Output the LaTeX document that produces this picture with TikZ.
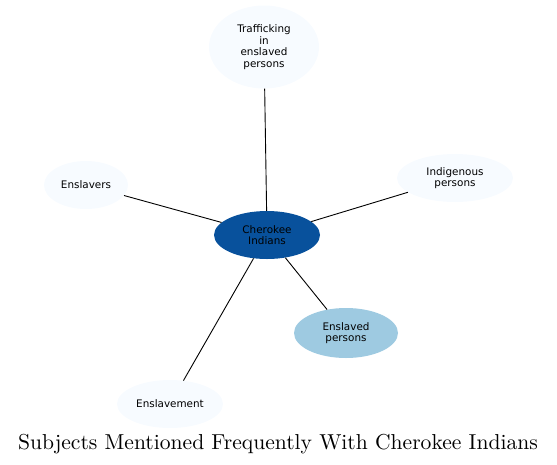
\documentclass[tikz,border=0pt]{standalone}
\usepackage{fontspec}
\newfontfamily\nodefont{DejaVu Sans}
\newfontfamily\titlefont{lmroman10-regular.otf}
\usetikzlibrary{shapes.geometric}
\definecolor{pale}{HTML}{F7FBFF}
\definecolor{midblue}{HTML}{9ECAE1}
\definecolor{darkblue}{HTML}{08519C}
\tikzset{
  topic/.style={ellipse, draw=none, fill=pale, inner sep=0pt, align=center,
    font=\nodefont\fontsize{10.4}{11.7}\selectfont, text=black},
  link/.style={draw=black, line width=0.9pt}
}
\begin{document}
\begin{tikzpicture}[x=1pt,y=-1pt]
\useasboundingbox (0,0) rectangle (557,464);
\node[topic, minimum width=110, minimum height=83] (traf) at (264,47) {Trafficking\\in\\enslaved\\persons};
\node[topic, minimum width=84, minimum height=48] (slavers) at (86,185) {Enslavers};
\node[topic, minimum width=116, minimum height=48] (indig) at (455,178) {Indigenous\\persons};
\node[topic, fill=darkblue, minimum width=106, minimum height=48] (cher) at (267,235) {Cherokee\\Indians};
\node[topic, fill=midblue, minimum width=104, minimum height=50] (enpers) at (346,333) {Enslaved\\persons};
\node[topic, minimum width=106, minimum height=48] (enslav) at (170,404) {Enslavement};
\draw[link] (cher) -- (traf);
\draw[link] (cher) -- (slavers);
\draw[link] (cher) -- (indig);
\draw[link] (cher) -- (enpers);
\draw[link] (cher) -- (enslav);
\node[font=\titlefont\fontsize{21.6}{26}\selectfont, anchor=base, inner sep=0pt] (title) at (278,449) {Subjects Mentioned Frequently With Cherokee Indians};
\end{tikzpicture}
\end{document}
